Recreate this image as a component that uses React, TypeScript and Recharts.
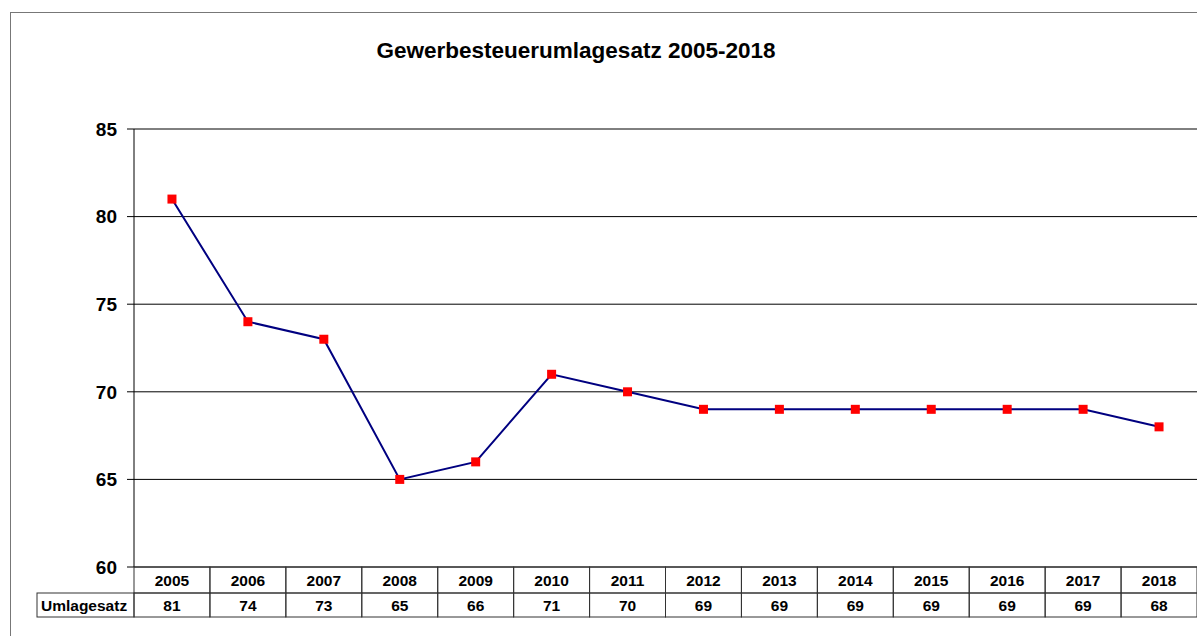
import { LineChart, Line, XAxis, YAxis, CartesianGrid } from 'recharts'

const jahre = ['2005', '2006', '2007', '2008', '2009', '2010', '2011', '2012', '2013', '2014', '2015', '2016', '2017', '2018']
const umlagesatz = [81, 74, 73, 65, 66, 71, 70, 69, 69, 69, 69, 69, 69, 68]
const yTicks = [60, 65, 70, 75, 80, 85]

const daten = jahre.map((j, i) => ({ jahr: j, wert: umlagesatz[i] }))

const W = 1197
const H = 636
const PLOT_LEFT = 134
const COL_W = (W - PLOT_LEFT) / jahre.length
const ROW1 = 26
const ROW2 = 24
const font = 'Arial, "Liberation Sans", sans-serif'

function TabellenTick(props: any) {
  const { x, y, index, payload } = props
  const left = x - COL_W / 2
  const cellText = { fontFamily: font, fontSize: 15.5, fontWeight: 700, fill: '#000', textAnchor: 'middle' as const }
  return (
    <g>
      <rect x={left} y={y} width={COL_W} height={ROW1} fill="none" stroke="#333" strokeWidth={1} />
      <rect x={left} y={y + ROW1} width={COL_W} height={ROW2} fill="none" stroke="#333" strokeWidth={1} />
      <text x={x} y={y + 19} {...cellText}>{payload.value}</text>
      <text x={x} y={y + ROW1 + 18} {...cellText}>{umlagesatz[index]}</text>
      {index === 0 && (
        <g>
          <rect x={37} y={y + ROW1} width={left - 37} height={ROW2} fill="none" stroke="#333" strokeWidth={1} />
          <text x={41} y={y + ROW1 + 18} {...cellText} textAnchor="start">Umlagesatz</text>
        </g>
      )}
    </g>
  )
}

function Quadrat(props: any) {
  const { cx, cy } = props
  if (cx == null || cy == null) return null
  return <rect x={cx - 4.5} y={cy - 4.5} width={9} height={9} fill="#ff0000" />
}

export default function App() {
  return (
    <div style={{ position: 'absolute', left: 0, top: 0, width: W, height: H, overflow: 'hidden', background: '#fff' }}>
      <div style={{ position: 'absolute', left: 10, top: 12, width: 1400, height: 800, border: '1px solid #777' }} />
      <div style={{ position: 'absolute', left: 0, top: 0 }}>
        <LineChart width={W} height={H} data={daten} margin={{ top: 129, right: 0, bottom: 19, left: 0 }}>
          <text x={576} y={58} textAnchor="middle" style={{ fontFamily: font, fontSize: 22.5, fontWeight: 700 }} fill="#000">
            Gewerbesteuerumlagesatz 2005-2018
          </text>
          <CartesianGrid vertical={false} stroke="#000" strokeWidth={1} />
          <XAxis
            dataKey="jahr"
            height={50}
            axisLine={false}
            tickLine={false}
            tickSize={0}
            tickMargin={0}
            interval={0}
            padding={{ left: COL_W / 2, right: COL_W / 2 }}
            tick={<TabellenTick />}
          />
          <YAxis
            width={PLOT_LEFT}
            domain={[60, 85]}
            ticks={yTicks}
            interval={0}
            axisLine={{ stroke: '#000' }}
            tickLine={{ stroke: '#000' }}
            tickSize={7}
            tickMargin={10}
            tick={{ fontFamily: font, fontSize: 19, fontWeight: 700, fill: '#000' }}
          />
          <Line
            dataKey="wert"
            type="linear"
            stroke="#000080"
            strokeWidth={2}
            dot={<Quadrat />}
            activeDot={false}
            isAnimationActive={false}
          />
        </LineChart>
      </div>
    </div>
  )
}
